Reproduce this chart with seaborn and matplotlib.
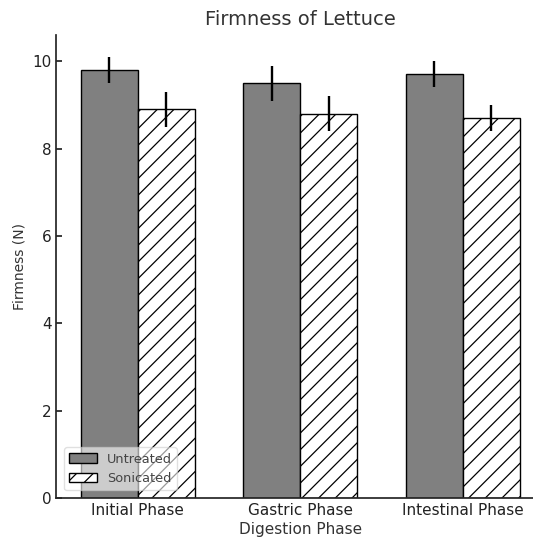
import numpy as np
import pandas as pd
import seaborn as sns
import matplotlib
matplotlib.use("Agg")
import matplotlib.pyplot as plt

# data
phases = ["Initial Phase", "Gastric Phase", "Intestinal Phase"]
treatments = ["Untreated", "Sonicated"]
untreated = [9.8, 9.5, 9.7]
untreated_err = [0.3, 0.4, 0.3]
sonicated = [8.9, 8.8, 8.7]
sonicated_err = [0.4, 0.4, 0.3]

df = pd.DataFrame({
    "phase": phases * 2,
    "treatment": [treatments[0]] * 3 + [treatments[1]] * 3,
    "firmness": untreated + sonicated,
})

sns.set_theme(style="ticks")
plt.rcParams["font.family"] = ["DejaVu Sans"]
plt.rcParams["hatch.linewidth"] = 0.9

fig = plt.figure(figsize=(5.33, 5.4), dpi=100)
ax = fig.add_axes([0.106, 0.078, 0.9146, 0.857])

sns.barplot(data=df, x="phase", y="firmness", hue="treatment", ax=ax,
            palette=["#808080", "white"], width=0.7, errorbar=None,
            edgecolor="black", linewidth=1, saturation=1)

# hatch the sonicated bars and add the error bars at the bar centres
bars = ax.patches[:6]
errs = untreated_err + sonicated_err
vals = untreated + sonicated
for i, p in enumerate(bars):
    if i >= 3:
        p.set_hatch("//")
    ax.errorbar(p.get_x() + p.get_width() / 2, vals[i], yerr=errs[i],
                color="black", lw=1.7, capsize=0)

ax.set_xlim(-0.5, 2.5)
ax.set_ylim(0, 10.6)
ax.set_yticks([0, 2, 4, 6, 8, 10])
ax.tick_params(direction="in", labelsize=11, colors="#222222", length=4)
ax.tick_params(axis="x", length=0)
sns.despine(ax=ax)

ax.set_title("Firmness of Lettuce", fontsize=14, color="#333333", pad=7)
ax.set_xlabel("Digestion Phase", fontsize=11, color="#333333", labelpad=3)
ax.set_ylabel("Firmness (N)", fontsize=10, color="#333333")

leg = ax.legend(loc="lower left", fontsize=9.3, frameon=True, framealpha=0.6,
                handlelength=2.1, borderaxespad=0.6)
leg.legend_handles[1].set_hatch("//")
for t in leg.get_texts():
    t.set_color("#444444")

fig.savefig("out.png", dpi=100)
